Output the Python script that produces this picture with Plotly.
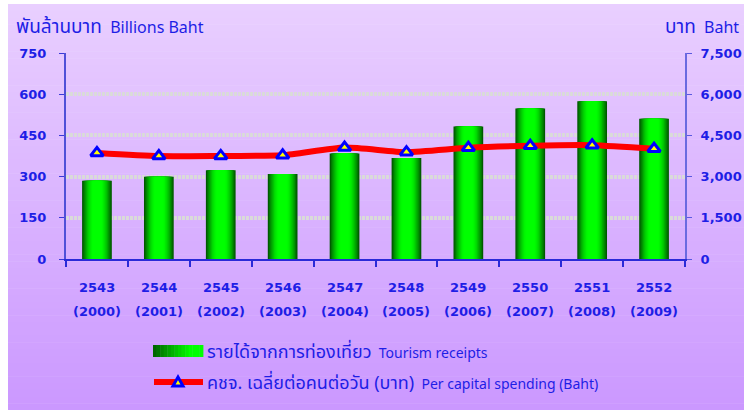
import plotly.graph_objects as go

# ---------------- data ----------------
thai_years = ["2543", "2544", "2545", "2546", "2547", "2548", "2549", "2550", "2551", "2552"]
ad_years = ["(2000)", "(2001)", "(2002)", "(2003)", "(2004)", "(2005)", "(2006)", "(2007)", "(2008)", "(2009)"]
receipts = [285.27, 299.05, 323.48, 309.27, 384.36, 367.38, 482.32, 547.78, 574.52, 510.26]  # billion baht
spending = [3861.19, 3748.00, 3753.74, 3774.50, 4057.85, 3890.13, 4048.22, 4120.95, 4142.44, 4012.99]  # baht/day
left_ticks = [0, 150, 300, 450, 600, 750]
right_ticks = [0, 1500, 3000, 4500, 6000, 7500]
right_tick_text = ["0", "1,500", "3,000", "4,500", "6,000", "7,500"]

W, H = 744, 410
L, R, T, B = 66, 685, 53, 259
PW, PH = R - L, B - T

def px(x):
    return (x - L) / PW

def py(y):
    return (B - y) / PH

BLUE_TXT = "#1E1EE6"
TICKFONT = dict(family="DejaVu Sans", size=13, color=BLUE_TXT, weight="bold")
THAI = "Noto Sans Thai, Loma, Garuda, Noto Sans, DejaVu Sans"

fig = go.Figure()

# gradient bars via overlaid bars of decreasing width
N = 12
BW = 0.48
def green_at(r):
    if r <= 0.3:
        g = 255
    else:
        t = (r - 0.3) / 0.7
        g = int(255 - 165 * t ** 1.6)
    return "rgb(0,%d,0)" % g

xs = list(range(len(thai_years)))
for i in range(N):
    r = 1 - i / N
    fig.add_trace(go.Bar(
        x=xs, y=receipts, width=BW * r,
        marker=dict(color=green_at(r), line=dict(width=0)),
        showlegend=False, hoverinfo="skip" if i else "y",
    ))

fig.add_trace(go.Scatter(
    x=xs, y=spending, yaxis="y2", mode="lines+markers",
    line=dict(color="#FF0000", width=6, shape="spline", smoothing=0.6),
    marker=dict(symbol="triangle-up", size=11, color="#FFFF00",
                line=dict(color="#0000FF", width=3)),
    showlegend=False,
))

shapes = []
# background gradient
top_c = (233, 207, 255)
bot_c = (203, 152, 255)
NS = 60
y0px, y1px = 4, H
for k in range(NS):
    a = y0px + (y1px - y0px) * k / NS
    b = y0px + (y1px - y0px) * (k + 1) / NS
    t = (k + 0.5) / NS
    c = tuple(int(round(top_c[j] + (bot_c[j] - top_c[j]) * t)) for j in range(3))
    shapes.append(dict(type="rect", xref="paper", yref="paper", layer="below",
                       x0=px(8), x1=px(W + 2), y0=py(b + 0.5), y1=py(a),
                       fillcolor="rgb(%d,%d,%d)" % c, line=dict(width=0)))

# legend swatch: gradient bar
sx0, sx1, sy0, sy1 = 153, 203, 345, 357
NSW = 14
for k in range(NSW):
    a = sx0 + (sx1 - sx0) * k / NSW
    b = sx0 + (sx1 - sx0) * (k + 1) / NSW
    t = (k + 0.5) / NSW
    g = int(95 + 160 * min(1, t / 0.75))
    shapes.append(dict(type="rect", xref="paper", yref="paper",
                       x0=px(a), x1=px(b + 0.4), y0=py(sy1), y1=py(sy0),
                       fillcolor="rgb(0,%d,0)" % g, line=dict(width=0)))
# legend swatch: line + triangle
shapes.append(dict(type="line", xref="paper", yref="paper",
                   x0=px(154), x1=px(203), y0=py(382), y1=py(382),
                   line=dict(color="#FF0000", width=6)))
tx, ty = 178, 382
shapes.append(dict(type="path", xref="paper", yref="paper",
                   path="M %f %f L %f %f L %f %f Z" % (px(tx - 5), py(ty + 4), px(tx + 5), py(ty + 4), px(tx), py(ty - 5)),
                   fillcolor="#FFFF00", line=dict(color="#0000FF", width=3)))

annotations = []
for i, (ty_, ad) in enumerate(zip(thai_years, ad_years)):
    annotations.append(dict(x=i, y=py(287), xref="x", yref="paper", text=ty_,
                            showarrow=False, font=TICKFONT, yanchor="middle"))
    annotations.append(dict(x=i, y=py(311), xref="x", yref="paper", text=ad,
                            showarrow=False, font=TICKFONT, yanchor="middle"))

annotations.append(dict(x=px(14), y=py(27), xref="paper", yref="paper", xanchor="left", yanchor="middle",
                        showarrow=False,
                        text="<span style='font-size:19px'>พันล้านบาท</span>  Billions Baht",
                        font=dict(family=THAI, size=16, color=BLUE_TXT)))
annotations.append(dict(x=px(741), y=py(27), xref="paper", yref="paper", xanchor="right", yanchor="middle",
                        showarrow=False,
                        text="<span style='font-size:19px'>บาท</span>  Baht",
                        font=dict(family=THAI, size=16, color=BLUE_TXT)))
annotations.append(dict(x=px(205), y=py(352), xref="paper", yref="paper", xanchor="left", yanchor="middle",
                        showarrow=False,
                        text="<span style='font-size:18px'>รายได้จากการท่องเที่ยว</span>  Tourism receipts",
                        font=dict(family=THAI, size=14, color=BLUE_TXT)))
annotations.append(dict(x=px(205), y=py(383), xref="paper", yref="paper", xanchor="left", yanchor="middle",
                        showarrow=False,
                        text="<span style='font-size:18px'>คชจ. เฉลี่ยต่อคนต่อวัน (บาท)</span>  Per capital spending (Baht)",
                        font=dict(family=THAI, size=14, color=BLUE_TXT)))

fig.update_layout(
    width=W, height=H,
    margin=dict(l=L, r=W - R, t=T, b=H - B, pad=0, autoexpand=False),
    paper_bgcolor="white", plot_bgcolor="rgba(0,0,0,0)",
    barmode="overlay", showlegend=False,
    shapes=shapes, annotations=annotations,
    xaxis=dict(tickvals=[i - 0.5 for i in range(len(thai_years) + 1)], ticks="outside", ticklen=6,
               tickcolor="#2A2AD8", tickwidth=1.5, showticklabels=False, automargin=False,
               showline=True, linecolor="#2A2AD8", linewidth=2, showgrid=False,
               zeroline=False, range=[-0.5, len(thai_years) - 0.5]),
    yaxis=dict(range=[0, 750], tickvals=left_ticks, ticks="outside", ticklen=5,
               tickcolor="#3A3AD8", tickfont=TICKFONT, ticklabelstandoff=10, automargin=False,
               showline=True, linecolor="#5050D8", linewidth=2,
               showgrid=True, gridcolor="#DADADA", gridwidth=4, griddash="3px,1px",
               zeroline=False),
    yaxis2=dict(range=[0, 7500], tickvals=right_ticks, ticktext=right_tick_text,
                overlaying="y", side="right", ticks="outside", ticklen=5, automargin=False,
                tickcolor="#5A5AE0", tickfont=TICKFONT, ticklabelstandoff=6,
                showline=True, linecolor="#6A6AE0", linewidth=2,
                showgrid=False, zeroline=False),
)

fig.write_html("out.html", config={"displayModeBar": False},
               post_script="document.body.style.margin='0';")
